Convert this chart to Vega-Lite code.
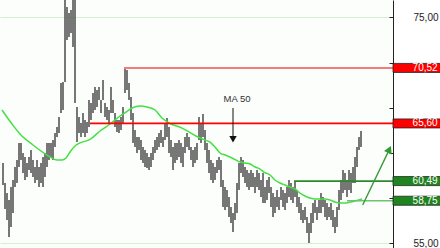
{
  "$schema": "https://vega.github.io/schema/vega-lite/v6.json",
  "width": 393,
  "height": 248,
  "autosize": {"type": "none"},
  "padding": {"left": 0, "top": 0, "right": 47, "bottom": 0},
  "background": "white",
  "view": {"fill": "#fbfefb", "stroke": null},
  "config": {"font": "Liberation Sans"},
  "datasets": {
    "bars": [
      {"t":1,"h":62.09,"l":60.14},{"t":2,"h":60.32,"l":58.01},{"t":3,"h":59.43,"l":57.04},{"t":4,"h":58.81,"l":55.53},
      {"t":5,"h":59.96,"l":56.42},{"t":6,"h":60.59,"l":57.66},{"t":7,"h":61.74,"l":59.96},{"t":8,"h":62.36,"l":60.32},
      {"t":9,"h":63.87,"l":61.74},{"t":10,"h":63.87,"l":62.36},{"t":11,"h":62.98,"l":61.21},{"t":12,"h":62.62,"l":60.59},
      {"t":13,"h":62.09,"l":60.85},{"t":14,"h":62.62,"l":61.47},{"t":15,"h":63.24,"l":61.21},{"t":16,"h":62.36,"l":60.85},
      {"t":17,"h":61.74,"l":60.32},{"t":18,"h":62.36,"l":60.59},{"t":19,"h":61.74,"l":59.96},{"t":20,"h":62.09,"l":60.32},
      {"t":21,"h":62.62,"l":59.96},{"t":22,"h":62.98,"l":60.85},{"t":23,"h":63.87,"l":61.74},{"t":24,"h":63.87,"l":62.36},
      {"t":25,"h":63.87,"l":62.62},{"t":26,"h":64.13,"l":62.36},{"t":27,"h":64.75,"l":63.51},{"t":28,"h":65.28,"l":64.40},
      {"t":29,"h":66.17,"l":64.75},{"t":30,"h":69.18,"l":66.52},{"t":31,"h":69.27,"l":66.79},{"t":32,"h":76.6,"l":69.27},
      {"t":33,"h":75.92,"l":73.0},{"t":34,"h":75.39,"l":73.26},{"t":35,"h":75.66,"l":73.62},{"t":36,"h":76.6,"l":72.38},
      {"t":37,"h":76.6,"l":67.41},{"t":38,"h":67.06,"l":63.95},{"t":39,"h":66.17,"l":64.75},{"t":40,"h":65.64,"l":64.40},
      {"t":41,"h":66.52,"l":64.75},{"t":42,"h":65.90,"l":64.40},{"t":43,"h":65.73,"l":64.75},{"t":44,"h":67.68,"l":65.28},
      {"t":45,"h":67.41,"l":65.90},{"t":46,"h":68.30,"l":66.52},{"t":47,"h":68.83,"l":66.79},{"t":48,"h":68.56,"l":67.06},
      {"t":49,"h":68.83,"l":67.68},{"t":50,"h":67.68,"l":66.52},{"t":51,"h":69.45,"l":67.68},{"t":52,"h":67.41,"l":66.17},
      {"t":53,"h":67.06,"l":65.90},{"t":54,"h":66.79,"l":65.64},{"t":55,"h":68.83,"l":66.52},{"t":56,"h":67.68,"l":66.52},
      {"t":57,"h":66.52,"l":65.28},{"t":58,"h":65.90,"l":64.84},{"t":59,"h":65.90,"l":64.75},{"t":60,"h":66.17,"l":65.02},
      {"t":61,"h":67.06,"l":65.64},{"t":62,"h":70.52,"l":68.30},{"t":63,"h":70.34,"l":68.56},{"t":64,"h":69.18,"l":67.68},
      {"t":65,"h":67.94,"l":65.90},{"t":66,"h":66.52,"l":63.87},{"t":67,"h":65.02,"l":63.51},{"t":68,"h":64.40,"l":62.98},
      {"t":69,"h":64.40,"l":63.24},{"t":70,"h":64.13,"l":62.36},{"t":71,"h":63.51,"l":62.09},{"t":72,"h":63.24,"l":61.74},
      {"t":73,"h":62.98,"l":61.65},{"t":74,"h":62.62,"l":61.47},{"t":75,"h":62.98,"l":61.74},{"t":76,"h":63.51,"l":62.36},
      {"t":77,"h":64.13,"l":62.98},{"t":78,"h":64.40,"l":63.24},{"t":79,"h":64.75,"l":63.51},{"t":80,"h":65.02,"l":63.87},
      {"t":81,"h":64.40,"l":63.51},{"t":82,"h":65.64,"l":64.13},{"t":83,"h":66.08,"l":64.40},{"t":84,"h":65.28,"l":62.98},
      {"t":85,"h":64.13,"l":62.62},{"t":86,"h":63.51,"l":61.47},{"t":87,"h":63.87,"l":62.09},{"t":88,"h":63.87,"l":62.36},
      {"t":89,"h":64.13,"l":62.62},{"t":90,"h":63.87,"l":62.09},{"t":91,"h":63.51,"l":61.74},{"t":92,"h":64.40,"l":62.98},
      {"t":93,"h":64.75,"l":63.51},{"t":94,"h":64.40,"l":63.24},{"t":95,"h":63.51,"l":62.36},{"t":96,"h":63.24,"l":61.74},
      {"t":97,"h":63.51,"l":62.09},{"t":98,"h":63.87,"l":62.36},{"t":99,"h":66.17,"l":64.13},{"t":100,"h":65.64,"l":63.87},
      {"t":101,"h":66.44,"l":64.40},{"t":102,"h":65.02,"l":63.24},{"t":103,"h":63.87,"l":62.09},{"t":104,"h":63.24,"l":61.21},
      {"t":105,"h":62.36,"l":60.59},{"t":106,"h":62.09,"l":60.32},{"t":107,"h":61.74,"l":60.59},{"t":108,"h":62.36,"l":61.21},
      {"t":109,"h":62.62,"l":61.47},{"t":110,"h":62.36,"l":59.96},{"t":111,"h":60.59,"l":58.19},{"t":112,"h":59.96,"l":57.93},
      {"t":113,"h":59.70,"l":58.19},{"t":114,"h":59.08,"l":57.30},{"t":115,"h":58.19,"l":56.77},{"t":116,"h":57.66,"l":55.98},
      {"t":117,"h":58.55,"l":57.04},{"t":118,"h":60.32,"l":57.66},{"t":119,"h":62.09,"l":59.70},{"t":120,"h":62.62,"l":61.21},
      {"t":121,"h":62.36,"l":60.85},{"t":122,"h":61.74,"l":60.32},{"t":123,"h":61.47,"l":59.96},{"t":124,"h":61.21,"l":59.70},
      {"t":125,"h":61.47,"l":59.96},{"t":126,"h":61.21,"l":59.96},{"t":127,"h":60.85,"l":59.43},{"t":128,"h":61.47,"l":59.96},
      {"t":129,"h":61.21,"l":59.70},{"t":130,"h":60.59,"l":59.08},{"t":131,"h":61.21,"l":58.55},{"t":132,"h":59.96,"l":58.55},
      {"t":133,"h":60.59,"l":58.81},{"t":134,"h":60.85,"l":59.43},{"t":135,"h":59.96,"l":58.19},{"t":136,"h":59.43,"l":57.30},
      {"t":137,"h":59.08,"l":57.66},{"t":138,"h":59.70,"l":58.19},{"t":139,"h":59.08,"l":57.93},{"t":140,"h":59.96,"l":58.81},
      {"t":141,"h":59.70,"l":58.19},{"t":142,"h":59.43,"l":57.93},{"t":143,"h":59.96,"l":58.55},{"t":144,"h":60.59,"l":59.08},
      {"t":145,"h":60.32,"l":58.81},{"t":146,"h":59.96,"l":58.55},{"t":147,"h":60.49,"l":59.08},{"t":148,"h":59.70,"l":58.19},
      {"t":149,"h":59.08,"l":57.66},{"t":150,"h":58.55,"l":57.04},{"t":151,"h":57.93,"l":56.77},{"t":152,"h":58.19,"l":57.04},
      {"t":153,"h":57.30,"l":55.89},{"t":154,"h":56.77,"l":55.00},{"t":155,"h":57.66,"l":55.89},{"t":156,"h":58.55,"l":56.77},
      {"t":157,"h":58.81,"l":57.66},{"t":158,"h":58.19,"l":57.04},{"t":159,"h":58.81,"l":57.66},{"t":160,"h":59.43,"l":57.66},
      {"t":161,"h":59.08,"l":58.19},{"t":162,"h":58.81,"l":57.30},{"t":163,"h":58.55,"l":57.04},{"t":164,"h":58.19,"l":57.30},
      {"t":165,"h":58.55,"l":57.04},{"t":166,"h":57.93,"l":56.42},{"t":167,"h":57.30,"l":55.89},{"t":168,"h":58.19,"l":56.42},
      {"t":169,"h":59.70,"l":57.93},{"t":170,"h":60.59,"l":58.81},{"t":171,"h":61.47,"l":59.43},{"t":172,"h":61.21,"l":59.70},
      {"t":173,"h":60.59,"l":59.08},{"t":174,"h":61.47,"l":59.70},{"t":175,"h":61.21,"l":59.43},{"t":176,"h":61.74,"l":60.32},
      {"t":177,"h":62.62,"l":60.32},{"t":178,"h":63.51,"l":61.74},{"t":179,"h":64.40,"l":63.24},{"t":180,"h":64.93,"l":63.51}
    ],
    "ma": [
      {"t":0.5,"v":66.79},{"t":5.5,"v":65.55},{"t":9.5,"v":64.66},{"t":16,"v":63.69},{"t":23,"v":62.80},
      {"t":28,"v":62.36},{"t":30.5,"v":62.36},{"t":32.5,"v":62.54},{"t":34.5,"v":63.07},{"t":37,"v":63.60},
      {"t":39.5,"v":63.87},{"t":44.5,"v":64.18},{"t":49.5,"v":64.93},{"t":54.5,"v":65.55},{"t":59.5,"v":66.26},
      {"t":62.5,"v":66.61},{"t":65.5,"v":66.97},{"t":69.5,"v":67.15},{"t":73,"v":67.06},{"t":77,"v":66.79},
      {"t":80.5,"v":66.08},{"t":84,"v":65.64},{"t":90.5,"v":65.19},{"t":98.5,"v":64.40},{"t":102,"v":64.13},
      {"t":104.5,"v":63.95},{"t":107,"v":63.51},{"t":109.5,"v":62.98},{"t":112,"v":62.80},{"t":115.5,"v":62.54},
      {"t":119.5,"v":62.18},{"t":122,"v":62.09},{"t":124.5,"v":62.00},{"t":127,"v":61.74},{"t":129.5,"v":61.56},
      {"t":131.5,"v":61.29},{"t":134.5,"v":61.03},{"t":137,"v":60.59},{"t":139.5,"v":60.32},{"t":142,"v":60.14},
      {"t":144.5,"v":59.96},{"t":147,"v":59.79},{"t":149.5,"v":59.43},{"t":152,"v":59.17},{"t":154.5,"v":58.99},
      {"t":157,"v":58.90},{"t":162,"v":58.90},{"t":164.5,"v":58.81},{"t":167,"v":58.63},{"t":169.5,"v":58.55},
      {"t":172,"v":58.55},{"t":174.5,"v":58.63},{"t":177,"v":58.72},{"t":180.5,"v":58.90}
    ],
    "levels": [
      {"level":"70,52","price":70.52,"start":61.5,"kind":"r1"},
      {"level":"65,60","price":65.60,"start":44.5,"kind":"r2"},
      {"level":"60,49","price":60.49,"start":146.5,"kind":"s1"},
      {"level":"58,75","price":58.75,"start":173,"kind":"s2"}
    ],
    "notes": [{"label":"MA 50","t":118,"price":67.79}],
    "maArrow": [{"t":116,"top":66.97,"bottom":64.2}],
    "trend": [{"t":180.85,"v":58.37,"part":"tail"},{"t":194.2,"v":63.3,"part":"head"}]
  },
  "layer": [
    {
      "data": {"name": "bars"},
      "mark": {"type": "rule", "color": "#555555", "strokeWidth": 1.6},
      "encoding": {
        "x": {"field": "t", "type": "quantitative", "scale": {"domain": [-0.5, 196], "nice": false, "zero": false}, "axis": null},
        "y": {"field": "h", "type": "quantitative",
          "scale": {"domain": [54.56, 76.54], "nice": false, "zero": false},
          "axis": {
            "orient": "right", "title": null,
            "values": [55,56,57,58,59,60,61,62,63,64,65,66,67,68,69,70,71,72,73,74,75,76],
            "labelExpr": "datum.value % 5 === 0 ? replace(format(datum.value, '.2f'), '.', ',') : ''",
            "grid": true, "gridColor": "#d4f2d0", "gridWidth": 1,
            "gridOpacity": {"condition": {"test": "datum.value % 5 === 0", "value": 1}, "value": 0},
            "domain": true, "domainColor": "#222222", "domainWidth": 1,
            "ticks": true, "tickSize": -4, "tickColor": "#222222", "tickWidth": 1,
            "labelPadding": 24, "labelAlign": "left", "labelBaseline": "middle",
            "labelFont": "Liberation Sans", "labelFontSize": 10, "labelColor": "#222222"
          }
        },
        "y2": {"field": "l"}
      }
    },
    {
      "data": {"name": "ma"},
      "mark": {"type": "line", "color": "#44e044", "strokeWidth": 1.5, "interpolate": "monotone"},
      "encoding": {
        "x": {"field": "t", "type": "quantitative"},
        "y": {"field": "v", "type": "quantitative"}
      }
    },
    {
      "data": {"name": "levels"},
      "mark": {"type": "rule"},
      "encoding": {
        "x": {"field": "start", "type": "quantitative"},
        "x2": {"datum": 196},
        "y": {"field": "price", "type": "quantitative"},
        "color": {"field": "kind", "type": "nominal", "legend": null,
          "scale": {"domain": ["r1","r2","s1","s2"], "range": ["#f77a7a","#ff0000","#2a8a2a","#6cc46c"]}},
        "strokeWidth": {"field": "kind", "type": "nominal", "legend": null,
          "scale": {"domain": ["r1","r2","s1","s2"], "range": [2, 1.5, 1, 2]}}
      }
    },
    {
      "data": {"name": "levels"},
      "transform": [
        {"calculate": "datum.price - 0.4", "as": "lo"},
        {"calculate": "datum.price + 0.4", "as": "hi"}
      ],
      "mark": {"type": "rect", "stroke": "#222222", "strokeWidth": 0.8},
      "encoding": {
        "x": {"datum": 196},
        "x2": {"datum": 220},
        "y": {"field": "lo", "type": "quantitative"},
        "y2": {"field": "hi"},
        "fill": {"field": "kind", "type": "nominal", "legend": null,
          "scale": {"domain": ["r1","r2","s1","s2"], "range": ["#ff0000","#ff0000","#1f861f","#1f861f"]}}
      }
    },
    {
      "data": {"name": "levels"},
      "mark": {"type": "text", "align": "right", "baseline": "middle", "color": "white", "fontSize": 10, "font": "Liberation Sans"},
      "encoding": {
        "x": {"datum": 218.3},
        "y": {"field": "price", "type": "quantitative"},
        "text": {"field": "level"}
      }
    },
    {
      "data": {"name": "notes"},
      "mark": {"type": "text", "align": "center", "baseline": "middle", "color": "#333333", "fontSize": 9.5, "font": "Liberation Sans"},
      "encoding": {
        "x": {"field": "t", "type": "quantitative"},
        "y": {"field": "price", "type": "quantitative"},
        "text": {"field": "label"}
      }
    },
    {
      "data": {"name": "maArrow"},
      "mark": {"type": "rule", "color": "#111111", "strokeWidth": 1},
      "encoding": {
        "x": {"field": "t", "type": "quantitative"},
        "y": {"field": "top", "type": "quantitative"},
        "y2": {"field": "bottom"}
      }
    },
    {
      "data": {"name": "maArrow"},
      "mark": {"type": "point", "shape": "triangle-down", "filled": true, "color": "#111111", "size": 55, "opacity": 1},
      "encoding": {
        "x": {"field": "t", "type": "quantitative"},
        "y": {"field": "bottom", "type": "quantitative"}
      }
    },
    {
      "data": {"name": "trend"},
      "mark": {"type": "line", "color": "#3a9a3a", "strokeWidth": 1.4},
      "encoding": {
        "x": {"field": "t", "type": "quantitative"},
        "y": {"field": "v", "type": "quantitative"}
      }
    },
    {
      "data": {"name": "trend"},
      "transform": [{"filter": "datum.part === 'head'"}],
      "mark": {"type": "point", "shape": "triangle-up", "filled": true, "color": "#2f9a2f", "size": 70, "angle": 25, "opacity": 1},
      "encoding": {
        "x": {"field": "t", "type": "quantitative"},
        "y": {"field": "v", "type": "quantitative"}
      }
    }
  ]
}
